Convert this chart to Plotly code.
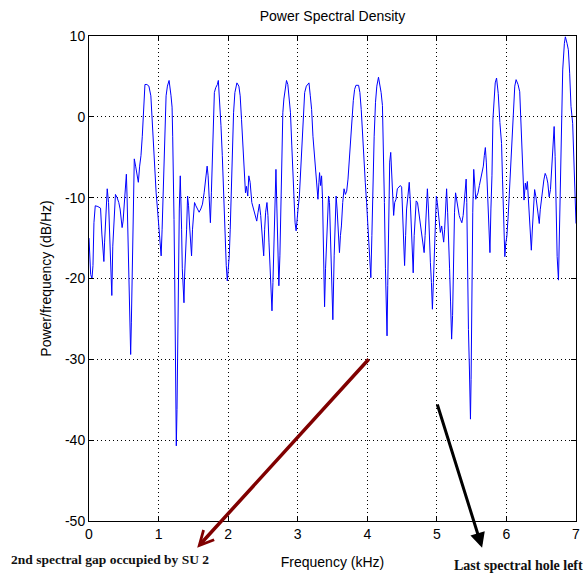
import plotly.graph_objects as go

# ---- data ----
freq_khz = [
    0.000, 0.010, 0.024, 0.043, 0.057, 0.071, 0.090, 0.128, 0.166, 0.185, 0.200, 0.214, 0.224, 0.247, 0.262,
    0.281, 0.295, 0.309, 0.328, 0.342, 0.366, 0.380, 0.404, 0.428, 0.447, 0.461, 0.476, 0.490, 0.509, 0.523,
    0.537, 0.547, 0.561, 0.575, 0.590, 0.599, 0.609, 0.623, 0.637, 0.651, 0.670, 0.689, 0.709, 0.728, 0.747,
    0.766, 0.785, 0.804, 0.832, 0.861, 0.889, 0.908, 0.927, 0.946, 0.965, 0.984, 1.003, 1.022, 1.037, 1.051,
    1.070, 1.089, 1.108, 1.127, 1.151,
    1.179, 1.194, 1.203, 1.213, 1.222, 1.232, 1.241, 1.251, 1.255, 1.265, 1.274, 1.289, 1.298, 1.312, 1.322,
    1.331, 1.341, 1.355, 1.365, 1.374, 1.388, 1.403, 1.417, 1.431, 1.446, 1.460, 1.474, 1.488, 1.503, 1.517,
    1.536, 1.560, 1.583, 1.607, 1.631, 1.655, 1.679, 1.698, 1.712, 1.726, 1.745, 1.759, 1.774, 1.788, 1.802,
    1.821, 1.845, 1.859, 1.878, 1.897, 1.916, 1.935, 1.954, 1.973, 1.988, 2.002, 2.016, 2.030, 2.045, 2.059,
    2.078, 2.097, 2.126, 2.154, 2.173, 2.192, 2.211, 2.230, 2.249, 2.263, 2.282, 2.297, 2.316,
    2.340, 2.363, 2.387, 2.411, 2.430, 2.449, 2.468, 2.482, 2.496, 2.511, 2.525, 2.539, 2.558, 2.572, 2.587,
    2.601, 2.615, 2.630, 2.644, 2.658, 2.672, 2.687, 2.701, 2.715, 2.729, 2.744, 2.758, 2.772, 2.786, 2.801,
    2.820, 2.839, 2.858, 2.877, 2.896, 2.915, 2.934, 2.948, 2.962, 2.977, 2.991, 3.005, 3.024, 3.043, 3.062,
    3.081, 3.100, 3.124, 3.143, 3.162, 3.181, 3.200, 3.219, 3.238, 3.257, 3.276, 3.291, 3.305, 3.314, 3.329,
    3.343, 3.357, 3.371, 3.386, 3.400, 3.414, 3.428, 3.443, 3.457, 3.471, 3.485, 3.495,
    3.505, 3.524, 3.538, 3.552, 3.566, 3.581, 3.600, 3.614, 3.628, 3.647, 3.666, 3.685, 3.704, 3.723, 3.742,
    3.761, 3.780, 3.799, 3.818, 3.837, 3.875, 3.894, 3.913, 3.932, 3.951, 3.971, 3.990, 4.009, 4.023, 4.037,
    4.051, 4.066, 4.080, 4.099, 4.118, 4.137, 4.161, 4.180, 4.199, 4.218, 4.232, 4.246, 4.261, 4.275, 4.284,
    4.294, 4.308, 4.322, 4.337, 4.351, 4.365, 4.379, 4.394, 4.413, 4.432, 4.451, 4.475, 4.494, 4.508, 4.522,
    4.536, 4.551, 4.565, 4.584, 4.603, 4.617, 4.632, 4.646, 4.660, 4.674,
    4.689, 4.703, 4.722, 4.741, 4.760, 4.779, 4.798, 4.817, 4.831, 4.845, 4.864, 4.879, 4.893, 4.907, 4.922,
    4.936, 4.950, 4.964, 4.979, 4.993, 5.007, 5.021, 5.036, 5.050, 5.069, 5.083, 5.098, 5.112, 5.126, 5.140,
    5.155, 5.169, 5.183, 5.197, 5.212, 5.226, 5.240, 5.254, 5.269, 5.283, 5.302, 5.321, 5.340, 5.359, 5.378,
    5.392, 5.407, 5.421, 5.430, 5.440, 5.454, 5.468, 5.483, 5.492, 5.502, 5.516, 5.530, 5.545, 5.559, 5.573,
    5.592, 5.611, 5.630, 5.649, 5.668, 5.682, 5.697, 5.711, 5.730, 5.749, 5.763, 5.777, 5.792, 5.806, 5.825,
    5.839,
    5.858, 5.882, 5.906, 5.930, 5.944, 5.963, 5.977, 5.991, 6.006, 6.025, 6.039, 6.058, 6.072, 6.096, 6.120,
    6.139, 6.167, 6.191, 6.205, 6.220, 6.239, 6.253, 6.272, 6.286, 6.301, 6.315, 6.329, 6.343, 6.358, 6.372,
    6.386, 6.405, 6.424, 6.443, 6.457, 6.472, 6.486, 6.500, 6.519, 6.538, 6.557, 6.576, 6.595, 6.614, 6.633,
    6.652, 6.671, 6.686, 6.700, 6.714, 6.729, 6.748, 6.762, 6.776, 6.790, 6.809, 6.833, 6.847, 6.871, 6.890,
    6.909, 6.928, 6.952, 6.976, 6.995, 7.000,
]

psd_db = [
    -15.0, -17.5, -19.5, -20.0, -18.4, -13.1, -11.0, -11.1, -11.3, -14.5, -16.6, -17.9, -15.5, -10.6, -8.9,
    -10.6, -13.9, -17.2, -22.1, -16.0, -11.4, -9.6, -10.0, -10.6, -11.4, -12.7, -13.7, -12.9, -10.6, -8.3,
    -7.1, -9.8, -15.5, -20.9, -26.7, -29.4, -25.4, -18.8, -11.4, -5.2, -6.1, -7.3, -8.1, -6.1, -4.8,
    -2.4, 0.9, 4.0, 4.0, 3.8, 2.6, -0.7, -4.0, -6.9, -9.4, -11.4, -13.9, -16.0, -17.2, -13.9,
    -8.1, -1.5, 2.6, 3.8, 4.5,
    2.6, 1.2, -2.4, -6.3, -12.7, -20.1, -27.1, -33.9, -40.7, -36.2, -27.9, -19.7, -11.4, -7.3, -9.8,
    -13.9, -18.8, -20.5, -23.0, -19.7, -17.2, -13.9, -9.8, -11.0, -13.5, -16.0, -17.2, -13.9, -11.4, -10.6,
    -11.0, -11.4, -11.8, -11.4, -10.8, -9.4, -7.7, -6.1, -7.3, -10.6, -13.1, -9.4, -5.2, -0.3, 3.0,
    3.6, 4.0, 4.5, 2.2, -1.1, -4.8, -9.8, -14.7, -18.4, -20.3, -18.8, -17.2, -13.9, -9.8, -4.4,
    0.5, 3.0, 4.2, 3.8, 2.6, -0.3, -4.0, -7.3, -9.4, -8.6, -9.8, -7.3, -8.1,
    -10.6, -11.4, -12.2, -12.9, -11.8, -10.8, -12.2, -14.3, -16.4, -17.2, -13.9, -11.8, -10.6, -12.2, -15.5,
    -18.8, -21.7, -24.0, -20.5, -15.1, -8.9, -6.5, -11.4, -16.8, -20.9, -17.2, -10.6, -3.6, 0.5, 2.2,
    3.4, 4.5, 4.0, 2.6, 0.5, -3.6, -7.3, -10.6, -13.1, -14.1, -13.1, -11.4, -9.8, -6.5, -3.2,
    0.9, 3.0, 3.8, 4.0, 4.2, 2.6, 0.9, -2.4, -4.8, -6.9, -8.9, -10.2, -8.1, -6.9, -8.5,
    -7.3, -10.2, -16.4, -23.5, -18.8, -15.1, -12.2, -9.8, -10.6, -15.5, -18.8, -22.1,
    -25.1, -17.2, -12.2, -9.8, -11.4, -13.9, -16.8, -14.7, -13.5, -10.6, -8.9, -9.6, -9.2, -7.7, -5.2,
    -2.4, 0.1, 2.0, 3.4, 3.9, 3.9, 3.0, 0.9, -2.4, -5.2, -8.1, -10.6, -13.5, -16.8, -18.4,
    -19.9, -14.7, -7.3, -2.4, 1.8, 3.8, 4.9, 4.0, 3.0, 1.4, -3.6, -10.6, -18.8, -23.4, -27.1,
    -20.9, -10.6, -5.6, -4.4, -7.7, -11.4, -12.2, -10.6, -10.2, -8.9, -8.7, -8.5, -8.7, -12.7, -15.5,
    -18.4, -14.7, -11.4, -9.8, -8.1, -10.2, -13.9, -17.2, -19.3, -14.7,
    -12.2, -10.4, -10.6, -11.8, -13.1, -13.9, -15.1, -16.8, -14.7, -12.2, -8.9, -11.4, -15.5, -18.0, -20.5,
    -23.8, -20.5, -17.2, -13.1, -9.8, -10.6, -12.2, -13.1, -14.3, -13.5, -14.7, -15.5, -13.9, -11.4, -8.9,
    -11.8, -14.7, -18.8, -22.9, -27.5, -24.6, -17.2, -11.8, -9.4, -10.2, -11.4, -12.2, -12.7, -13.1, -12.2,
    -10.6, -9.4, -7.7, -10.6, -18.8, -26.3, -31.2, -37.4, -32.5, -22.1, -11.8, -6.5, -8.1, -10.2, -9.8,
    -9.4, -8.5, -7.7, -6.5, -6.1, -4.8, -3.8, -5.6, -9.8, -13.9, -16.8, -11.4, -7.3, -0.3, 3.0,
    4.2,
    4.8, 2.9, -0.7, -3.3, -7.8, -13.6, -17.3, -15.6, -14.8, -12.3, -9.9, -5.7, -2.8, 1.3, 3.8,
    4.6, 4.0, 3.1, 0.0, -4.1, -8.2, -10.3, -8.2, -9.0, -8.0, -10.3, -12.3, -14.8, -16.5, -14.0,
    -11.5, -9.0, -9.9, -11.5, -12.7, -13.2, -11.5, -10.3, -8.6, -7.8, -7.0, -7.4, -8.2, -9.9, -9.0,
    -5.7, -2.8, -1.2, -4.9, -13.2, -17.3, -20.2, -14.0, -5.7, 0.5, 5.8, 9.1, 9.9, 9.1, 8.3,
    5.4, 1.3, -0.8, -7.4, -9.9, -13.2,
]

x_ticks = [0, 1, 2, 3, 4, 5, 6, 7]
y_ticks = [10, 0, -10, -20, -30, -40, -50]
y_tick_labels = ["10", "0", "-10", "-20", "-30", "-40", "-50"]

fig = go.Figure()
fig.add_trace(go.Scatter(x=freq_khz, y=psd_db, mode="lines",
                         line=dict(color="#0000ff", width=1), showlegend=False,
                         hoverinfo="skip"))

axis_font = dict(family="Liberation Sans, Arial, sans-serif", size=14, color="black")
common = dict(showline=True, linecolor="black", linewidth=1, mirror="ticks",
              ticks="inside", ticklen=5, tickcolor="black",
              showgrid=True, gridcolor="black", gridwidth=1, griddash="1px,3px",
              zeroline=False, tickfont=axis_font)

fig.update_xaxes(range=[0, 7], tickvals=x_ticks, ticktext=[str(v) for v in x_ticks],
                 title=dict(text="Frequency (kHz)", font=axis_font, standoff=16), **common)
fig.update_yaxes(range=[-50, 10], tickvals=y_ticks, ticktext=y_tick_labels,
                 title=dict(text="Power/frequency (dB/Hz)", font=axis_font, standoff=10), **common)

serif_bold = dict(family="Liberation Serif, Times New Roman, serif", size=13.5, color="#111111")
serif_bold2 = dict(family="Liberation Serif, Times New Roman, serif", size=14, color="#111111")

fig.update_layout(
    width=586, height=579,
    margin=dict(l=89, r=6, t=36, b=58),
    plot_bgcolor="white", paper_bgcolor="white",
    title=dict(text="Power Spectral Density", font=axis_font,
               x=0.5, xref="paper", xanchor="center",
               y=1 - 16 / 579, yref="container", yanchor="middle"),
    annotations=[
        dict(x=1.555, y=-53.3, ax=4.04, ay=-29.8, xref="x", yref="y", axref="x", ayref="y",
             text="", showarrow=True, arrowhead=5, arrowsize=0.8, arrowwidth=3.5,
             arrowcolor="#800000"),
        dict(x=5.65, y=-53.3, ax=5.0, ay=-35.4, xref="x", yref="y", axref="x", ayref="y",
             text="", showarrow=True, arrowhead=2, arrowsize=1.0, arrowwidth=3,
             arrowcolor="black"),
        dict(x=(8 - 89) / 491, y=(521 - 559) / 485, xref="paper", yref="paper",
             xanchor="left", yanchor="middle", showarrow=False,
             text="<b>2nd spectral gap occupied by SU 2</b>", font=serif_bold),
        dict(x=(455 - 89) / 491, y=(521 - 565) / 485, xref="paper", yref="paper",
             xanchor="left", yanchor="middle", showarrow=False,
             text="<b>Last spectral hole left</b>", font=serif_bold2),
    ],
)

fig.write_html("out.html")
